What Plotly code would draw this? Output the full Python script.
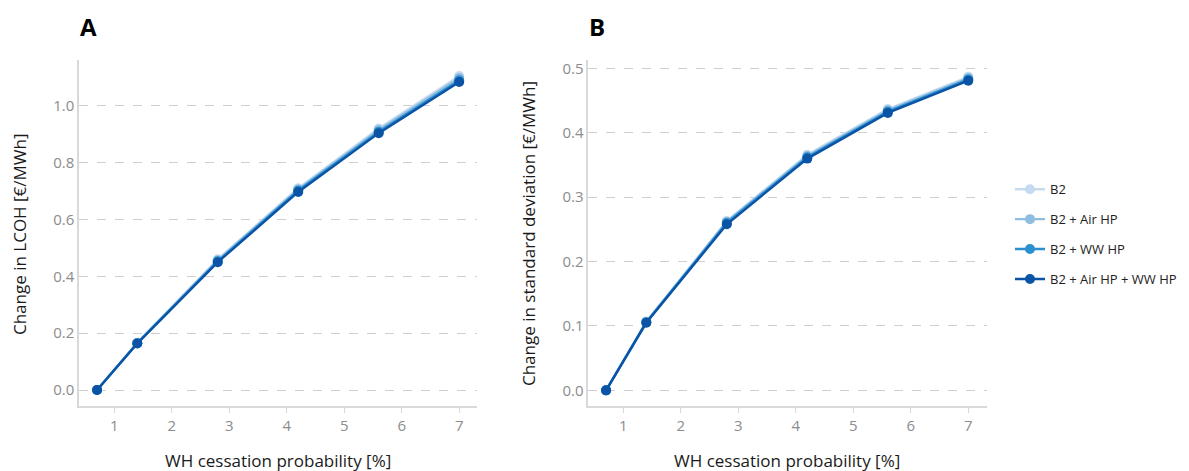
import plotly.graph_objects as go

x_prob = [0.7, 1.4, 2.8, 4.2, 5.6, 7.0]
series_names = ["B2", "B2 + Air HP", "B2 + WW HP", "B2 + Air HP + WW HP"]
series_colors = ["#c6dbef", "#8fbde0", "#2b8fd0", "#0a53a5"]

lcoh_b2 = [0.0, 0.166, 0.460, 0.710, 0.920, 1.105]
lcoh_air = [0.0, 0.166, 0.457, 0.706, 0.915, 1.098]
lcoh_ww = [0.0, 0.165, 0.453, 0.702, 0.909, 1.090]
lcoh_all = [0.0, 0.164, 0.450, 0.697, 0.904, 1.084]

std_b2 = [0.0, 0.107, 0.263, 0.366, 0.437, 0.487]
std_air = [0.0, 0.106, 0.262, 0.364, 0.435, 0.485]
std_ww = [0.0, 0.106, 0.260, 0.362, 0.433, 0.483]
std_all = [0.0, 0.105, 0.258, 0.360, 0.431, 0.481]

lcoh = [lcoh_b2, lcoh_air, lcoh_ww, lcoh_all]
std = [std_b2, std_air, std_ww, std_all]

fig = go.Figure()
for i, name in enumerate(series_names):
    fig.add_trace(go.Scatter(
        x=x_prob, y=lcoh[i], mode="lines+markers", name=name,
        line=dict(color=series_colors[i], width=2.4),
        marker=dict(color=series_colors[i], size=10),
        legendgroup=name, showlegend=True, xaxis="x", yaxis="y"))
for i, name in enumerate(series_names):
    fig.add_trace(go.Scatter(
        x=x_prob, y=std[i], mode="lines+markers", name=name,
        line=dict(color=series_colors[i], width=2.4),
        marker=dict(color=series_colors[i], size=10),
        legendgroup=name, showlegend=False, xaxis="x2", yaxis="y2"))

OFF = 8  # page body margin
W, H = 1189 - OFF, 471 - OFF


def px(x):
    return (x - OFF) / W


def py(y):
    return 1 - (y - OFF) / H


ydom = [py(406), py(58.3)]
axis_common = dict(
    showline=True, linecolor="#d9d9d9", linewidth=1.5, mirror=False,
    tickfont=dict(family="Open Sans, DejaVu Sans", size=15, color="#8c8c8c"),
    zeroline=False,
)
xcommon = dict(axis_common, showgrid=False, tickvals=[1, 2, 3, 4, 5, 6, 7],
               ticks="outside", ticklen=5, tickcolor="#d9d9d9")
ycommon = dict(axis_common, showgrid=True, gridcolor="#cfcfcf", griddash="dash",
               gridwidth=1, ticks="", tickformat=".1f")

fig.update_layout(
    width=W, height=H,
    margin=dict(l=0, r=0, t=0, b=0),
    paper_bgcolor="white", plot_bgcolor="white",
    xaxis=dict(xcommon, domain=[px(79), px(477)], range=[0.386, 7.31], anchor="y"),
    yaxis=dict(ycommon, domain=ydom, range=[-0.057, 1.161], tickvals=[0, 0.2, 0.4, 0.6, 0.8, 1.0], anchor="x"),
    xaxis2=dict(xcommon, domain=[px(588.3), px(986.7)], range=[0.391, 7.32], anchor="y2"),
    yaxis2=dict(ycommon, domain=ydom, range=[-0.0247, 0.513], tickvals=[0, 0.1, 0.2, 0.3, 0.4, 0.5], anchor="x2"),
    legend=dict(x=px(1010), y=py(173), xanchor="left", yanchor="top",
                font=dict(family="Open Sans, DejaVu Sans", size=13, color="#222"),
                tracegroupgap=10, bgcolor="rgba(0,0,0,0)"),
    showlegend=True,
)

xt_font = dict(family="Open Sans, DejaVu Sans", size=17, color="#1a1a1a")
yt_font = dict(family="Open Sans, DejaVu Sans", size=17, color="#1a1a1a")
ann = [
    dict(text="<b>A</b>", x=px(88), y=py(25), font=dict(family="Open Sans, DejaVu Sans", size=24, color="black")),
    dict(text="<b>B</b>", x=px(597), y=py(25), font=dict(family="Open Sans, DejaVu Sans", size=24, color="black")),
    dict(text="WH cessation probability [%]", x=px(278), y=py(460), font=xt_font),
    dict(text="WH cessation probability [%]", x=px(787), y=py(460), font=xt_font),
    dict(text="Change in LCOH [€/MWh]", x=px(19), y=py(233), textangle=-90, font=yt_font),
    dict(text="Change in standard deviation [€/MWh]", x=px(528), y=py(233), textangle=-90, font=yt_font),
]
for a in ann:
    a.update(xref="paper", yref="paper", showarrow=False, xanchor="center", yanchor="middle")
fig.update_layout(annotations=ann)

fig.write_html("out.html")
